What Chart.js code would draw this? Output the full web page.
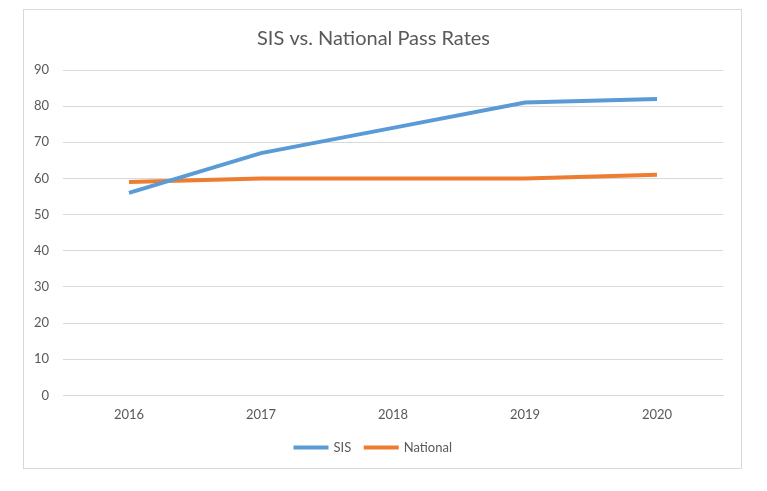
<!DOCTYPE html>
<html>
<head>
<meta charset="utf-8">
<script src="https://cdn.jsdelivr.net/npm/chart.js@4"></script>
<style>
  html, body { margin: 0; padding: 0; background: #fff; }
  .chart-box {
    position: absolute;
    left: 23px;
    top: 9px;
    width: 719px;
    height: 460px;
    border: 1px solid #d9d9d9;
    box-sizing: border-box;
  }
</style>
</head>
<body>
<div class="chart-box">
  <canvas id="chart"></canvas>
</div>
<script>
const years = ['2016', '2017', '2018', '2019', '2020'];
const sisRates = [56, 67, 74, 81, 82];
const nationalRates = [59, 60, 60, 60, 61];
const yTicks = [0, 10, 20, 30, 40, 50, 60, 70, 80, 90];

const textColor = '#595959';
const font = 'Lato, "Open Sans", sans-serif';

new Chart(document.getElementById('chart'), {
  type: 'line',
  data: {
    labels: years,
    datasets: [
      {
        label: 'SIS',
        data: sisRates,
        borderColor: '#5b9bd5',
        backgroundColor: '#5b9bd5',
        borderWidth: 4,
        pointRadius: 0,
        tension: 0
      },
      {
        label: 'National',
        data: nationalRates,
        borderColor: '#ed7d31',
        backgroundColor: '#ed7d31',
        borderWidth: 4,
        pointRadius: 0,
        tension: 0
      }
    ]
  },
  options: {
    responsive: true,
    maintainAspectRatio: false,
    animation: false,
    layout: { padding: { left: 0, right: 18, top: 8, bottom: 4 } },
    plugins: {
      title: {
        display: true,
        text: 'SIS vs. National Pass Rates',
        color: textColor,
        font: { family: font, size: 20, weight: 'normal' },
        padding: { top: 9, bottom: 19 }
      },
      legend: {
        position: 'bottom',
        labels: {
          color: textColor,
          font: { family: font, size: 13 },
          boxWidth: 32,
          boxHeight: 1,
          padding: 14,
          generateLabels(chart) {
            const items = Chart.defaults.plugins.legend.labels.generateLabels(chart);
            items.forEach(item => { item.lineWidth = 3; });
            return items;
          }
        }
      },
      tooltip: { enabled: false }
    },
    scales: {
      x: {
        offset: true,
        grid: { display: false },
        border: { color: '#d9d9d9' },
        ticks: { color: textColor, font: { family: font, size: 13 }, padding: 4 }
      },
      y: {
        min: 0,
        max: 90,
        afterBuildTicks(axis) { axis.ticks = yTicks.map(v => ({ value: v })); },
        afterFit(axis) { axis.width = 39; },
        grid: { color: '#d9d9d9', drawTicks: false },
        border: { display: false },
        ticks: { color: textColor, font: { family: font, size: 13 }, padding: 14 }
      }
    }
  }
});
</script>
</body>
</html>
